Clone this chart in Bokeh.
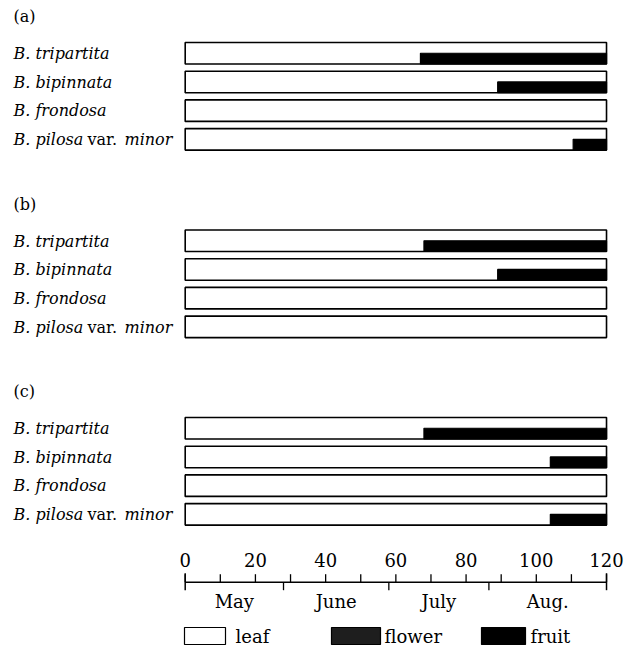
from bokeh.plotting import figure
from bokeh.models import Range1d
from bokeh.embed import file_html
from bokeh.resources import INLINE
from bokeh.core.properties import value

# ---------------- data ----------------
panels = ["(a)", "(b)", "(c)"]
species = ["B. tripartita", "B. bipinnata", "B. frondosa", "B. pilosa var. minor"]
# day on which the black (reproductive) phase starts; None = leaf only
onset_a = [67, 89, None, 110.5]
onset_b = [68, 89, None, None]
onset_c = [68, 104, None, 104]
onsets = [onset_a, onset_b, onset_c]
season_end = 120
tick_values = [0, 20, 40, 60, 80, 100, 120]
minor_values = [10, 30, 50, 70, 90, 110]
months = ["May", "June", "July", "Aug."]
month_bounds = [0, 28, 58, 86.5, 120]
legend_labels = ["leaf", "flower", "fruit"]
legend_colors = ["white", "#1e1e1e", "black"]

# ---------------- layout ----------------
W, H = 624, 646
PX = 3.511                 # px per day
X0 = 184.7                 # px of day 0
FONT = value("DejaVu Serif")

def dx(px):
    return (px - X0) / PX

p = figure(width=W, height=H, output_backend="svg", toolbar_location=None,
           x_range=Range1d(-X0 / PX, (W - X0) / PX),
           y_range=Range1d(H, 0), min_border=0)
p.axis.visible = False
p.grid.visible = False
p.outline_line_color = None
p.background_fill_color = "white"

panel_top0 = 42
panel_step = 187.5
row_step = 28.7
bar_h = 21.5

for pi, (plab, ons) in enumerate(zip(panels, onsets)):
    top0 = panel_top0 + pi * panel_step
    p.text(x=[dx(13)], y=[top0 - 26], text=[plab], text_font=FONT,
           text_font_size="16px", text_baseline="middle", text_align="left",
           text_color="black")
    tops = [top0 + i * row_step for i in range(len(species))]
    bots = [t + bar_h for t in tops]
    p.quad(left=[0] * len(tops), right=[season_end] * len(tops), top=tops,
           bottom=bots, fill_color="white", line_color="black", line_width=1.6)
    bl, bt, bb = [], [], []
    for t, b, o in zip(tops, bots, ons):
        if o is not None:
            bl.append(o); bt.append(t + bar_h / 2); bb.append(b)
    if bl:
        p.quad(left=bl, right=[season_end] * len(bl), top=bt, bottom=bb,
               fill_color="black", line_color="black", line_width=1.2)
    for t, name in zip(tops, species):
        y = t + 11
        if " var. " in name:
            a, b = name.split(" var. ")
            p.text(x=[dx(13)], y=[y], text=[a], text_font=FONT, text_font_size="16px",
                   text_font_style="italic", text_baseline="middle")
            p.text(x=[dx(13)], y=[y], text=["var."], x_offset=74, text_font=FONT,
                   text_font_size="16px", text_baseline="middle")
            p.text(x=[dx(13)], y=[y], text=[b], x_offset=111, text_font=FONT,
                   text_font_size="16px", text_font_style="italic",
                   text_baseline="middle")
        else:
            p.text(x=[dx(13)], y=[y], text=[name], text_font=FONT, text_font_size="16px",
                   text_font_style="italic", text_baseline="middle")

# ---------------- time axis ----------------
ay = 581.7
p.segment(x0=[0], y0=[ay], x1=[season_end], y1=[ay], line_color="black", line_width=1.5)
allt = sorted(tick_values + minor_values)
p.segment(x0=allt, y0=[ay - 8] * len(allt), x1=allt, y1=[ay] * len(allt),
          line_color="black", line_width=1.3)
p.segment(x0=[0, season_end], y0=[ay - 9, ay - 9], x1=[0, season_end], y1=[ay + 8, ay + 8],
          line_color="black", line_width=1.5)
mb = month_bounds[1:-1]
p.segment(x0=mb, y0=[ay] * len(mb), x1=mb, y1=[ay + 8] * len(mb),
          line_color="black", line_width=1.3)
p.text(x=tick_values, y=[559] * len(tick_values), text=[str(v) for v in tick_values],
       text_font=FONT, text_font_size="18px", text_align="center",
       text_baseline="middle")
mc = [(a + b) / 2 for a, b in zip(month_bounds[:-1], month_bounds[1:])]
p.text(x=mc, y=[601] * len(mc), text=months, text_font=FONT, text_font_size="18px",
       text_align="center", text_baseline="middle")

# ---------------- legend ----------------
box_l = [184, 331, 481]
box_r = [225, 380, 525]
txt_x = [235, 384, 530]
p.quad(left=[dx(v) for v in box_l], right=[dx(v) for v in box_r],
       top=[627] * 3, bottom=[644] * 3, fill_color=legend_colors,
       line_color="black", line_width=1.2)
p.text(x=[dx(v) for v in txt_x], y=[635.5] * 3, text=legend_labels, text_font=FONT,
       text_font_size="18px", text_baseline="middle")

open("out.html", "w").write(file_html(p, INLINE))
